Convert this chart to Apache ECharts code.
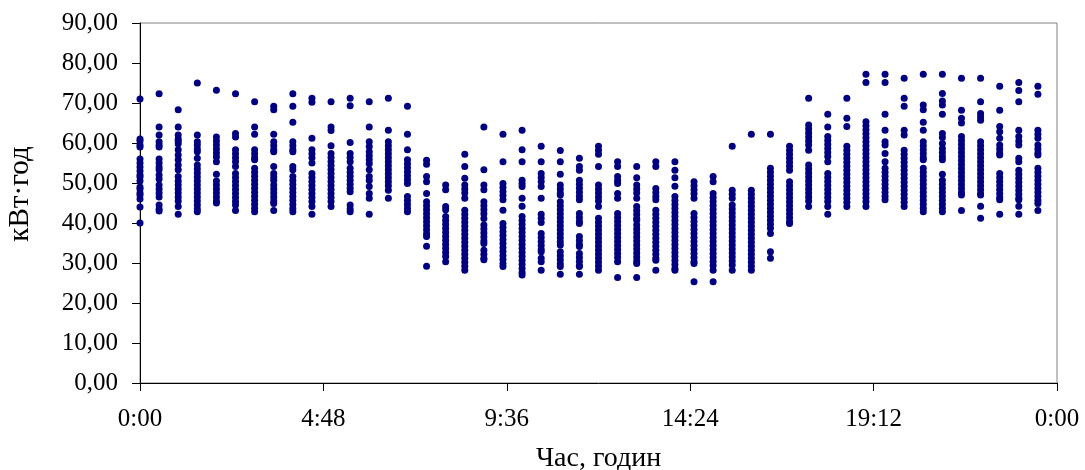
<!DOCTYPE html>
<html>
<head>
<meta charset="utf-8">
<script src="https://cdn.jsdelivr.net/npm/echarts@6/dist/echarts.min.js"></script>
<style>
html, body { margin: 0; padding: 0; background: #fff; }
#chart { width: 1085px; height: 470px; }
</style>
</head>
<body>
<div id="chart"></div>
<script>
// значення по півгодинах (кВт·год), читані з графіка
var t0000 = [71, 61, 60.5, 59.5, 59, 56, 55, 54, 53, 52, 51.5, 50.5, 49, 48.5, 47.5, 47, 46, 44, 40];
var t0030 = [72.3, 64, 62, 60.3, 59.5, 59, 56, 55, 54, 53.3, 52, 51, 49.5, 48.5, 47.5, 46.5, 44.5, 43.5, 43];
var t0100 = [68.3, 64, 62, 61, 60.5, 59.8, 58.3, 57, 55.8, 54.5, 53.3, 51.6, 50.5, 49.5, 48.5, 47.5, 46.5, 45.5, 44.1, 42.2];
var t0130 = [75, 62, 60.3, 59.5, 58.5, 57.8, 56.2, 54.5, 53.5, 52.5, 51.5, 50.5, 49.5, 48.5, 47.5, 46.5, 45.5, 44.5, 43.5, 42.8];
var t0200 = [73.2, 61.5, 60.5, 59.5, 58.5, 57.5, 56.5, 55.3, 52.2, 50.5, 49.5, 48.5, 47.5, 46.5, 45.5, 45];
var t0230 = [72.3, 62.4, 61.5, 58.3, 57.3, 56.3, 55.3, 54.1, 52.4, 51.4, 50.4, 49.4, 48.4, 47.4, 46.4, 45.4, 44.5, 43.1];
var t0300 = [70.3, 64, 62.2, 58.3, 57.3, 56.3, 55.8, 53.7, 52.7, 51.7, 50.7, 49.7, 48.7, 47.7, 46.7, 45.7, 44.7, 43.7, 42.8];
var t0330 = [69.2, 68.3, 62.2, 60.3, 59.3, 58.3, 57.8, 54.1, 52.4, 51.5, 50.7, 49.5, 48.5, 47.5, 46.5, 45.5, 44.9, 43.1];
var t0400 = [72.3, 69.2, 65.2, 60.3, 59.3, 58.3, 57.8, 54.1, 53.3, 51.6, 50.6, 49.6, 48.6, 47.6, 46.6, 45.6, 44.6, 43.6, 42.8];
var t0430 = [71.2, 70.2, 61.2, 58.3, 57.3, 56.3, 55, 52.4, 51.4, 50.4, 49.4, 48.4, 47.4, 46.4, 45.4, 44.1, 42.2];
var t0500 = [70.3, 64, 63.1, 59.3, 57.4, 56.4, 55.4, 54.4, 53.4, 52.4, 51.4, 50.4, 49.4, 48.4, 47.4, 46.4, 45.4, 44.1];
var t0530 = [71.2, 69.3, 60.1, 57.4, 56.4, 55.3, 53.7, 52.7, 51.7, 50.7, 49.7, 48.7, 47.8, 44.5, 43.5, 42.8];
var t0600 = [70.3, 64, 60.3, 59.1, 57.8, 56.8, 55.8, 54.8, 53.3, 51.6, 50.6, 49.1, 47.4, 46.2, 42.2];
var t0630 = [71.2, 63.2, 60.3, 59.3, 58.3, 57.3, 56.3, 55.3, 54.3, 53.3, 52.3, 51.3, 50.3, 49.3, 48.2, 46.2];
var t0700 = [69.2, 62.2, 58.3, 55.8, 54.8, 53.8, 52.8, 51.8, 50.8, 49.9, 46.6, 45.6, 44.6, 43.6, 42.8];
var t0730 = [55.7, 54.7, 51.6, 50.3, 47.4, 45.3, 44.3, 43.3, 42.3, 41.3, 40.3, 39.3, 38.3, 37.3, 36.6, 34.2, 29.2];
var t0800 = [49.5, 48.3, 44.1, 43.3, 41.6, 40.6, 39.6, 38.6, 37.6, 36.6, 35.6, 34.6, 33.6, 32.6, 31.6, 30.3];
var t0830 = [57.2, 54.1, 51.2, 49.5, 48.5, 47.5, 46.2, 43.2, 42.2, 41.2, 40.2, 39.2, 38.2, 37.2, 36.2, 35.2, 34.2, 33.2, 32.2, 31.2, 30.2, 29.2, 28.2];
var t0900 = [64, 53.3, 49.5, 48.3, 45.3, 44.3, 43.3, 42.3, 41.1, 39.5, 38.5, 37.5, 36.5, 35.5, 34.9, 33.2, 32.2, 31.2, 30.8];
var t0930 = [62.2, 55.3, 49.9, 48.9, 47.9, 46.9, 45.8, 43.2, 39.9, 38.9, 37.9, 36.9, 35.9, 34.9, 33.9, 32.9, 31.9, 30.9, 29.9, 29.1];
var t1000 = [63.2, 58.3, 55.3, 50.7, 49.9, 49.1, 46.2, 44.2, 41.6, 40.6, 39.6, 38.6, 37.6, 36.6, 35.6, 34.6, 33.6, 32.6, 31.6, 30.6, 29.6, 28.6, 27.6, 27];
var t1030 = [59.2, 55.3, 52.4, 51.4, 50.4, 49.1, 46.2, 42.2, 41.2, 40.1, 37.4, 36.4, 35.4, 34.4, 33.4, 32.8, 31.2, 30.3, 28.2];
var t1100 = [58.1, 55.3, 52.2, 49.5, 48.5, 47.5, 47, 45.3, 44.3, 43.3, 42.3, 41.3, 40.3, 39.3, 38.3, 37.3, 36.3, 35.3, 34.5, 32.8, 31.8, 30.8, 29.8, 29.1, 27.2];
var t1130 = [56.2, 54.1, 53.2, 50.7, 49.7, 48.7, 47.7, 46.7, 45.8, 42.4, 41.4, 40.4, 39.9, 36.6, 35.6, 34.6, 34.1, 32.4, 31.4, 30.4, 29.4, 29.1, 27.2];
var t1200 = [59.2, 58.2, 57.2, 54.1, 49.5, 48.5, 47.5, 46.5, 45.5, 44.1, 41.2, 40.2, 39.2, 38.2, 37.2, 36.2, 35.2, 34.2, 33.2, 32.2, 31.2, 30.2, 29.2, 28.2];
var t1230 = [55.3, 54.1, 51.6, 50.6, 49.9, 47.4, 46.2, 42.4, 41.4, 40.4, 39.4, 38.4, 37.4, 36.4, 35.4, 34.4, 33.4, 32.4, 31.4, 30.3, 26.4];
var t1300 = [54.1, 51.3, 49.5, 48.5, 47.5, 46.2, 44.1, 43.1, 42.1, 41.1, 40.7, 39.5, 38.5, 37.5, 36.5, 35.5, 34.5, 33.5, 32.5, 31.5, 30.5, 29.9, 26.4];
var t1330 = [55.3, 54.1, 48.6, 47.6, 46.6, 45.8, 43.2, 42.2, 41.2, 40.2, 39.2, 38.2, 37.2, 36.2, 35.2, 34.2, 33.2, 32.2, 31.2, 30.7, 28.2];
var t1400 = [55.3, 53.2, 51.3, 49.2, 46.6, 45.6, 44.6, 43.6, 42.6, 41.6, 40.6, 39.6, 38.6, 37.6, 36.6, 35.6, 34.6, 33.6, 32.6, 31.6, 30.6, 29.6, 28.6, 28.2];
var t1430 = [50.3, 49.3, 48.3, 47.3, 46.2, 42.4, 41.4, 40.4, 39.4, 38.4, 37.4, 36.4, 35.4, 34.4, 33.4, 32.4, 31.4, 30.4, 29.9, 25.3];
var t1500 = [51.6, 50.3, 47.4, 46.4, 45.4, 44.4, 43.4, 42.4, 41.4, 40.4, 39.4, 38.4, 37.4, 36.4, 35.4, 34.4, 33.4, 32.4, 31.4, 30.4, 29.4, 28.2, 25.3];
var t1530 = [59.2, 48.2, 47.2, 46.2, 44.5, 43.5, 42.5, 41.5, 40.5, 39.5, 38.5, 37.5, 36.5, 35.5, 34.5, 33.5, 32.5, 31.5, 30.5, 29.5, 28.2];
var t1600 = [62.2, 48.2, 47.2, 46.2, 45.2, 44.2, 43.2, 42.2, 41.2, 40.2, 39.2, 38.2, 37.2, 36.2, 35.2, 34.2, 33.2, 32.2, 31.2, 30.2, 29.2, 28.2];
var t1630 = [62.2, 53.7, 52.7, 51.7, 50.7, 49.7, 48.7, 47.7, 46.7, 45.7, 44.7, 43.7, 42.7, 41.7, 40.7, 39.7, 38.7, 37.4, 32.8, 31.2];
var t1700 = [59.2, 58.2, 57.2, 56.2, 55.2, 54.2, 53.2, 50.3, 49.3, 48.3, 47.3, 46.3, 45.3, 44.3, 43.3, 42.3, 41.3, 40.3, 39.9];
var t1730 = [71.2, 64.5, 63.5, 62.5, 61.5, 60.5, 59.5, 58.2, 54.5, 53.5, 52.5, 51.5, 50.5, 49.5, 48.5, 47.5, 46.5, 45.5, 44.1];
var t1800 = [67.2, 64, 61.6, 60.6, 59.6, 58.6, 57.6, 56.6, 55.3, 52.4, 51.4, 50.4, 49.4, 48.4, 47.4, 46.4, 45.4, 44.1, 42.2];
var t1830 = [71.2, 66.2, 64.1, 59.2, 58.2, 57.2, 56.2, 55.2, 54.2, 53.2, 52.2, 51.2, 50.2, 49.2, 48.2, 47.2, 46.2, 45.2, 44.1];
var t1900 = [77.2, 75.1, 65.3, 64.3, 63.3, 62.3, 61.3, 60.3, 59.3, 58.3, 57.3, 56.3, 55.3, 54.3, 53.3, 52.3, 51.3, 50.3, 49.3, 48.3, 47.3, 46.3, 45.3, 44.1];
var t1930 = [77.2, 75.1, 67.2, 63.2, 60.3, 59.5, 57.4, 55.3, 53.7, 52.7, 51.7, 50.7, 49.7, 48.7, 47.7, 46.7, 45.8];
var t2000 = [76.2, 71.2, 69.2, 63.2, 62, 58.2, 57.2, 56.2, 55.2, 54.2, 53.2, 52.2, 51.2, 50.2, 49.2, 48.2, 47.2, 46.2, 45.2, 44.1];
var t2030 = [77.2, 69.5, 68.3, 65.2, 63.2, 60.3, 59.3, 58.3, 57.3, 56.3, 55.8, 53.7, 52.7, 51.7, 50.7, 49.7, 48.7, 47.7, 46.7, 45.7, 44.7, 43.7, 42.8];
var t2100 = [77.2, 72.4, 70.5, 69.5, 67.2, 62.4, 61.4, 59.9, 58.6, 57.6, 56.6, 55.8, 52.2, 50.7, 49.7, 48.7, 47.7, 46.7, 45.7, 44.7, 43.7, 42.8];
var t2130 = [76.2, 68.2, 66.2, 65, 61.6, 60.6, 59.6, 58.6, 57.6, 56.6, 55.6, 54.6, 53.6, 52.6, 51.6, 50.6, 49.6, 48.6, 47.6, 47, 43.1];
var t2200 = [76.2, 70.3, 67.4, 66.5, 65.7, 60.3, 59.3, 58.3, 57.3, 56.3, 55.3, 54.3, 53.3, 52.3, 51.3, 50.3, 49.3, 48.3, 47.3, 47, 44.2, 41.2];
var t2230 = [74.2, 68.2, 64.1, 62.8, 61.2, 59.5, 58.5, 57.5, 57, 52.4, 51.4, 50.4, 49.4, 48.4, 47.4, 46.4, 45.8, 42.2];
var t2300 = [75.1, 73.1, 70.3, 63.2, 61.6, 60.5, 59.5, 56.2, 55.3, 53.2, 52.2, 51.2, 50.2, 49.2, 48.2, 47.2, 46.2, 45.8, 44.2, 42.2];
var t2330 = [74.2, 72.2, 63.2, 62.2, 61.2, 59.5, 58.5, 57.5, 57, 53.7, 52.7, 51.7, 50.7, 49.7, 48.7, 47.7, 46.7, 45.7, 44.9, 43.1];

// півгодинні зрізи з 0:00 до 23:30
var slots = [t0000, t0030, t0100, t0130, t0200, t0230, t0300, t0330, t0400, t0430, t0500, t0530,
	t0600, t0630, t0700, t0730, t0800, t0830, t0900, t0930, t1000, t1030, t1100, t1130,
	t1200, t1230, t1300, t1330, t1400, t1430, t1500, t1530, t1600, t1630, t1700, t1730,
	t1800, t1830, t1900, t1930, t2000, t2030, t2100, t2130, t2200, t2230, t2300, t2330];
var slotStep = 30; // хвилин

/**
 * формат часу для осі X (хвилини -> г:хх)
 */
function fmtTime(v){
	var m = Math.round(v) % 1440;
	var h = Math.floor(m / 60);
	var mm = m % 60;
	return h + ":" + (mm < 10 ? "0" + mm : mm);
}

var points = [];
slots.forEach(function (vals, i){
	vals.forEach(function (v){
		points.push([i * slotStep, v]);
	});
});

var font = "'Liberation Serif', 'Times New Roman', serif";
var myChart = echarts.init(document.getElementById('chart'));
var option = {
	animation: false,
	backgroundColor: '#fff',
	grid: {
		left: 140,
		right: 28,
		top: 23,
		bottom: 87,
		outerBoundsMode: 'none',
		containLabel: false,
		show: true,
		borderColor: '#808080',
		borderWidth: 1
	},
	xAxis: {
		type: 'value',
		min: 0,
		max: 1440,
		interval: 288,
		name: 'Час, годин',
		nameLocation: 'middle',
		nameGap: 62,
		nameTextStyle: { fontFamily: font, fontSize: 28, color: '#000' },
		axisLine: { show: true, lineStyle: { color: '#000', width: 1 } },
		axisTick: { show: true, inside: false, length: 8, lineStyle: { color: '#000' } },
		axisLabel: {
			margin: 24,
			fontFamily: font,
			fontSize: 25,
			color: '#000',
			formatter: function (v){ return fmtTime(v); }
		},
		splitLine: { show: false }
	},
	yAxis: {
		type: 'value',
		min: 0,
		max: 90,
		interval: 10,
		name: 'кВт·год',
		nameLocation: 'middle',
		nameGap: 105,
		nameTextStyle: { fontFamily: font, fontSize: 29, color: '#000', padding: [0, 0, 0, 18] },
		axisLine: { show: true, lineStyle: { color: '#000', width: 1 } },
		axisTick: { show: true, inside: false, length: 8, lineStyle: { color: '#000' } },
		axisLabel: {
			margin: 22,
			fontFamily: font,
			fontSize: 25,
			color: '#000',
			formatter: function (v){ return v.toFixed(2).replace('.', ','); }
		},
		splitLine: { show: false }
	},
	series: [{
		type: 'scatter',
		data: points,
		symbol: 'circle',
		symbolSize: 7,
		clip: false,
		itemStyle: { color: '#000080', opacity: 1 }
	}]
};
myChart.setOption(option);
</script>
</body>
</html>
